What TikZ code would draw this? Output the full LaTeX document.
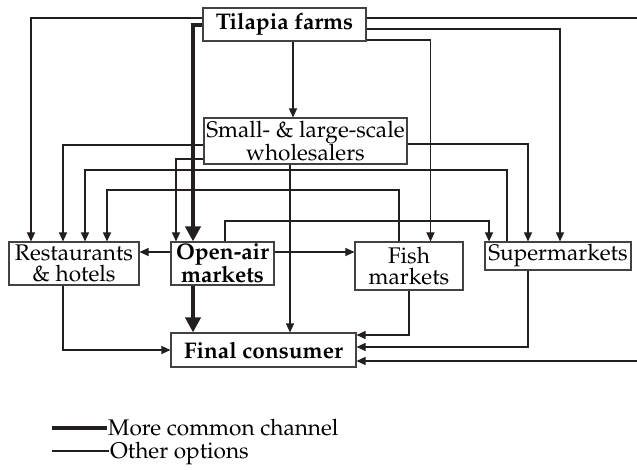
\documentclass[tikz,border=0pt]{standalone}
\usepackage[T1]{fontenc}
\renewcommand{\rmdefault}{ppl}
\usetikzlibrary{arrows.meta}
\definecolor{ink}{RGB}{35,31,32}
\begin{document}
\begin{tikzpicture}[x=1pt,y=-1pt,
  txt/.style={font=\fontsize{22.6}{20.8}\selectfont},
  box/.style={txt, draw=ink!85, line width=1.1pt, inner sep=0pt, align=center},
  flow/.style={draw=ink, line width=1.1pt, -{Triangle[length=9pt,width=8pt]}},
  mainflow/.style={draw=ink, line width=4pt, -{Triangle[length=15pt,width=15pt]}}]
\useasboundingbox (0,0) rectangle (637,470);

% actors in the supply chain
\node[box, minimum width=163pt, minimum height=33pt] (tf) at (284.5,24.5) {\bfseries Tilapia farms};
\node[box, minimum width=203pt, minimum height=46pt] (ws) at (305.5,141) {Small- \& large-scale\\wholesalers};
\node[box, minimum width=130pt, minimum height=43pt] (rh) at (74,263.5) {Restaurants\\\& hotels};
\node[box, minimum width=103pt, minimum height=43pt] (oa) at (222.5,263.5) {\bfseries Open-air\\\bfseries markets};
\node[box, minimum width=108pt, minimum height=48pt] (fm) at (409,266) {Fish\\markets};
\node[box, minimum width=146pt, minimum height=28pt] (sm) at (558,256) {Supermarkets};
\node[box, minimum width=185pt, minimum height=34pt] (fc) at (263.5,350) {\bfseries Final consumer};

% main channel
\draw[mainflow] (tf.west |- 0,25) -| (oa.north -| 193,0);
\draw[mainflow] (oa.south -| 193,0) -- (fc.north -| 193,0);

% from the farms
\draw[flow] (tf.west |- 0,18) -| (rh.north -| 31,0);
\draw[flow] (tf.south -| 293,0) -- (ws.north -| 293,0);
\draw[flow] (tf.east |- 0,40) -| (fm.north -| 430.5,0);
\draw[flow] (tf.east |- 0,29) -| (sm.north -| 560,0);
\draw[flow] (tf.east |- 0,18) -- (641,18) -- (641,361) -- (fc.east |- 0,361);

% from the wholesalers
\draw[flow] (ws.west |- 0,145) -| (rh.north -| 63,0);
\draw[flow] (ws.west |- 0,159) -| (oa.north -| 176,0);
\draw[flow] (ws.east |- 0,144) -| (sm.north -| 528,0);
\draw[flow] (ws.south -| 290,0) -- (fc.north -| 290,0);

% between retailers
\draw[flow] (sm.north -| 507,0) -- (507,170) -| (rh.north -| 85,0);
\draw[flow] (fm.north -| 399,0) -- (399,190) -| (rh.north -| 107,0);
\draw[flow] (oa.north -| 225,0) -- (225,221) -| (sm.north -| 489,0);
\draw[flow] (oa.west |- 0,252) -- (rh.east |- 0,252);
\draw[flow] (oa.east |- 0,252) -- (fm.west |- 0,252);

% to the final consumer
\draw[flow] (rh.south -| 63,0) |- (fc.west |- 0,350);
\draw[flow] (fm.south -| 409,0) |- (fc.east |- 0,335);
\draw[flow] (sm.south -| 528,0) |- (fc.east |- 0,347);

% legend
\coordinate (k1) at (52,428);
\coordinate (k2) at (52,451);
\node[txt, anchor=base west, inner sep=1pt] (l1) at (107,435) {More common channel};
\node[txt, anchor=base west, inner sep=1pt] (l2) at (109,458) {Other options};
\draw[ink, line width=4pt] (k1) -- (l1.west |- k1);
\draw[ink, line width=1.1pt] (k2) -- (l2.west |- k2);
\end{tikzpicture}
\end{document}
